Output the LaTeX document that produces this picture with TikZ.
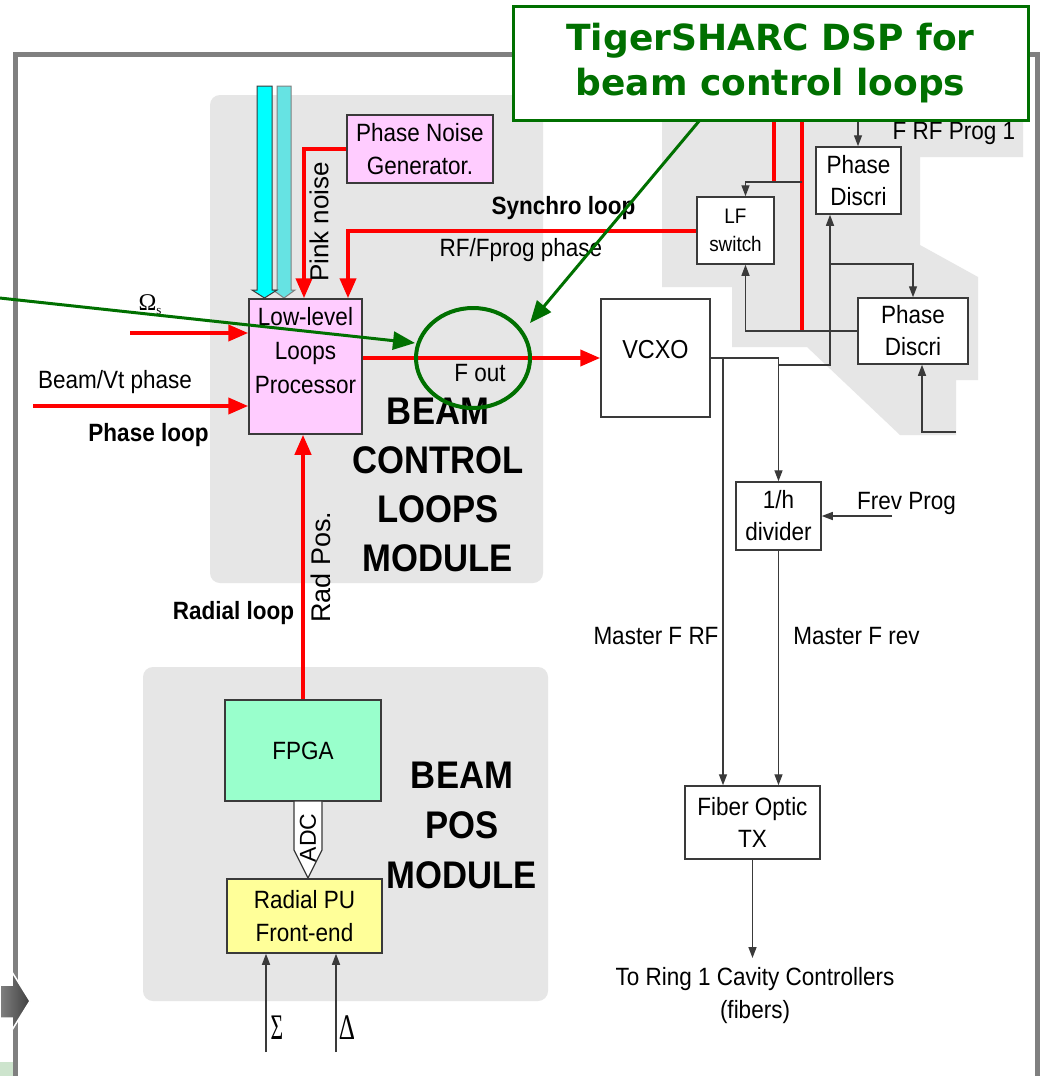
\documentclass[tikz,border=0pt]{standalone}
\usepackage{fontspec}
\setmainfont[FakeStretch=0.9]{Liberation Sans}
\newfontfamily\rotfont{Liberation Sans}
\newfontfamily\callfont{DejaVu Sans}
\newfontfamily\grfont{Liberation Serif}
\usetikzlibrary{arrows.meta,calc}
\definecolor{modgray}{HTML}{E6E6E6}
\definecolor{pinkfill}{HTML}{FFCCFF}
\definecolor{mintfill}{HTML}{99FFCC}
\definecolor{yelfill}{HTML}{FFFF99}
\definecolor{dkgreen}{RGB}{0,112,0}
\definecolor{framegray}{HTML}{808080}
\definecolor{edgecol}{HTML}{3A3A3A}
\definecolor{cyanA}{HTML}{00FFFF}
\definecolor{cyanB}{HTML}{66E3E3}
\tikzset{
  box/.style={draw=edgecol, line width=1.5pt, inner sep=0pt, align=center, font=\fontsize{25}{32}\selectfont},
  redarrow/.style={draw=red, line width=4pt, -{Triangle[length=20pt,width=16pt]}},
  redline/.style={draw=red, line width=4pt},
  blkarrow/.style={draw=edgecol, line width=1.4pt, -{Triangle[length=11pt,width=8pt]}},
  grnarrow/.style={draw=dkgreen, line width=3pt, -{Triangle[length=22pt,width=18pt]}},
  lbl/.style={font=\fontsize{25}{30}\selectfont, inner sep=0pt},
  blbl/.style={font=\fontsize{25}{30}\selectfont\bfseries, inner sep=0pt},
  biglbl/.style={font=\fontsize{38.5}{49}\selectfont\bfseries, align=center, inner sep=0pt},
  rotlbl/.style={font=\rotfont\fontsize{26}{26}\selectfont, inner sep=0pt, rotate=90},
  greek/.style={font=\grfont\fontsize{36}{36}\selectfont, inner sep=0pt},
}
\begin{document}
\begin{tikzpicture}[x=1pt,y=-1pt]
\useasboundingbox (0,0) rectangle (1042,1076);
\fill[white] (0,0) rectangle (1042,1076);
% outer frame
\draw[framegray, line width=5pt] (15.5,1080) -- (15.5,54.5) -- (1037,54.5) -- (1037,1080);
% module backgrounds
\fill[modgray, rounded corners=10pt] (210,95) rectangle (543,583);
\fill[modgray, rounded corners=10pt] (143,667) rectangle (548,1001);
\fill[modgray] (662,100) -- (1023,100) -- (1023,157) -- (920,157) -- (920,245) -- (978,277) -- (978,380) -- (956,380) -- (956,435) -- (900,435) -- (807,347) -- (732,347) -- (732,287) -- (662,287) -- cycle;
% cyan bus arrows
\draw[draw=gray, line width=1pt, fill=cyanB] (277,86) -- (291,86) -- (291,290) -- (295,290) -- (284,298) -- (273,290) -- (277,290) -- cycle;
\draw[draw=edgecol, line width=1pt, fill=cyanA] (257,86) -- (272,86) -- (272,290) -- (277,290) -- (264.5,298) -- (252,290) -- (257,290) -- cycle;
% boxes
\node[box, fill=pinkfill, minimum width=146pt, minimum height=68pt, font=\fontsize{25}{33}\selectfont] (png) at (420,149) {Phase Noise\\Generator.};
\node[box, fill=pinkfill, minimum width=113pt, minimum height=135pt] (llp) at (305.5,366.5) {};
\node[lbl, align=center, font=\fontsize{25}{34}\selectfont] (llpt) at (305.5,351) {Low-level\\Loops\\Processor};
\node[box, fill=white, minimum width=109pt, minimum height=118pt] (vcxo) at (655.5,358) {};
\node[lbl, font=\fontsize{26}{30}\selectfont] (vcxot) at (655.5,350) {VCXO};
\node[box, fill=white, minimum width=77pt, minimum height=67pt, font=\fontsize{21}{28}\selectfont] (lfsw) at (735.5,230.5) {LF\\switch};
\node[box, fill=white, minimum width=85pt, minimum height=67pt] (pd1) at (858.5,180.5) {Phase\\Discri};
\node[box, fill=white, minimum width=110pt, minimum height=66pt] (pd2) at (913,331) {Phase\\Discri};
\node[box, fill=white, minimum width=85pt, minimum height=68pt] (div) at (778.5,516) {1/h\\divider};
\node[box, fill=white, minimum width=135pt, minimum height=73pt] (fot) at (752.5,822.5) {Fiber Optic\\TX};
\node[box, fill=mintfill, minimum width=156pt, minimum height=101pt] (fpga) at (303,750.5) {FPGA};
\node[box, fill=yelfill, minimum width=155pt, minimum height=74pt, font=\fontsize{25}{33}\selectfont] (rpu) at (304.5,916) {Radial PU\\Front-end};
% ADC arrow
\draw[fill=white, draw=edgecol, line width=1.2pt] (294,801) -- (322,801) -- (322,850) -- (308,878) -- (294,850) -- cycle;
\node[rotlbl, font=\rotfont\fontsize{23}{23}\selectfont] (adc) at (308,838) {ADC};
% red connectors
\coordinate (om) at (130,333);
\draw[redarrow] (om) -- (om -| llp.west);
\coordinate (bv) at (33,406);
\draw[redarrow] (bv) -- (bv -| llp.west);
\draw[redarrow] (png.west) -| ($(llp.north)+(-1.5,0)$);
\draw[redarrow] (lfsw.west) -| ($(llp.north)+(42.5,0)$);
\draw[redarrow] (llp.east |- vcxo.west) -- (vcxo.west);
\draw[redarrow] (fpga.north) -- (fpga.north |- llp.south);
\coordinate (r1) at (774,110); \coordinate (r1b) at (774,182);
\coordinate (r2) at (802,110); \coordinate (r2b) at (802,332);
\draw[redline] (r1) -- (r1b);
\draw[redline] (r2) -- (r2b);
% black connectors
\coordinate (j1) at (802,182);
\draw[blkarrow] (j1) -| ($(lfsw.north)+(10,0)$);
\draw[blkarrow] (pd2.west) -| ($(lfsw.south)+(10,0)$);
\coordinate (frp) at (858,110);
\draw[blkarrow] (frp) -- (frp |- pd1.north);
\draw[blkarrow] (vcxo.east) -| (div.north);
\coordinate (mf) at (723,358);
\draw[blkarrow] (mf) -- (mf |- fot.north);
\coordinate (b1) at (778.5,365);
\draw[blkarrow] (b1) -| ($(pd1.south)+(-28.5,0)$);
\coordinate (b2) at (830,264);
\draw[blkarrow] (b2) -| (pd2.north);
\coordinate (pp) at (956,432);
\draw[blkarrow] (pp) -| ($(pd2.south)+(9,0)$);
\coordinate (fp) at (892,516);
\draw[blkarrow] (fp) -- (div.east);
\draw[blkarrow] (div.south) -- (div.south |- fot.north);
\coordinate (outp) at (752.5,958);
\draw[blkarrow] (fot.south) -- (outp);
\coordinate (sg) at (266,1052);
\draw[blkarrow] (sg) -- (sg |- rpu.south);
\coordinate (dl) at (336,1052);
\draw[blkarrow] (dl) -- (dl |- rpu.south);
% labels
\node[rotlbl] (pinkn) at (319,222) {Pink noise};
\node[blbl] (sync) at (563.5,208) {Synchro loop};
\node[lbl] (rfph) at (521,250) {RF/Fprog phase};
\node[inner sep=0pt, font=\grfont\fontsize{24}{24}\selectfont] (oms) at (150,305) {Ω\raisebox{-4pt}{\fontsize{13}{13}\selectfont s}};
\node[lbl] (bvt) at (115,382) {Beam/Vt phase};
\node[blbl] (phl) at (148.5,435) {Phase loop};
\node[lbl] (fout) at (480,373) {F out};
\node[biglbl] (bclm) at (438,485) {BEAM\\CONTROL\\LOOPS\\MODULE};
\node[blbl] (radl) at (233.5,613) {Radial loop};
\node[rotlbl, font=\rotfont\fontsize{27}{27}\selectfont] (radp) at (321,567) {Rad Pos.};
\node[biglbl, font=\fontsize{38.5}{50}\selectfont\bfseries] (bpm) at (462,825) {BEAM\\POS\\MODULE};
\node[lbl] (mfrf) at (656,636) {Master F RF};
\node[lbl] (mfrev) at (856.5,636) {Master F rev};
\node[lbl] (frev) at (906.5,503) {Frev Prog};
\node[lbl] (frf) at (954,133) {F RF Prog 1};
\node[lbl, align=center, font=\fontsize{25}{33}\selectfont] (ring) at (755,996) {To Ring 1 Cavity Controllers\\(fibers)};
\node[greek] (sgl) at (277,1028) {\scalebox{0.6}[1]{Σ}};
\node[greek] (dll) at (347,1028) {\scalebox{0.7}[1]{Δ}};
% left decorations
\draw[white, line width=1.5pt, left color=framegray, right color=black!75] (0,985) -- (12,985) -- (12,972) -- (30,1001) -- (12,1030) -- (12,1018) -- (0,1018) -- cycle;
\fill[green!30!gray!30] (0,1062) rectangle (13,1076);
% green annotations
\draw[dkgreen, line width=4pt] (473,358) ellipse [x radius=57, y radius=50];
\coordinate (gs) at (-5,297.5);
\coordinate (ge) at (415,343);
\draw[grnarrow] (gs) -- (ge);
\node[draw=dkgreen, line width=3pt, fill=white, minimum width=515pt, minimum height=114pt, inner sep=0pt, align=center, text=dkgreen, font=\callfont\bfseries\fontsize{36}{45}\selectfont] (callout) at (770.5,63) {TigerSHARC DSP for\\beam control loops};
\coordinate (cs) at (700,120);
\coordinate (ce) at (530,323);
\draw[grnarrow] (cs) -- (ce);
\end{tikzpicture}
\end{document}
